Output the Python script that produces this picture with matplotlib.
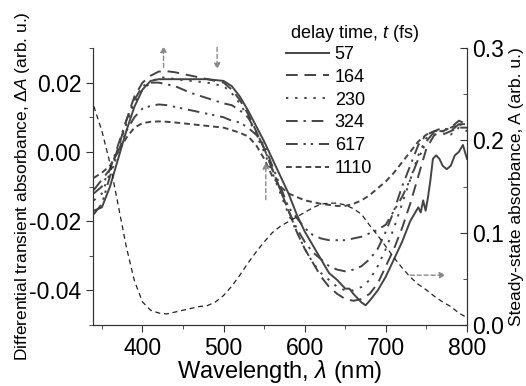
import numpy as np
import matplotlib
matplotlib.use("Agg")
import matplotlib.pyplot as plt

plt.rcParams["font.family"] = ["Liberation Sans", "DejaVu Sans"]
plt.rcParams["mathtext.fontset"] = "custom"
plt.rcParams["mathtext.rm"] = "Liberation Sans"
plt.rcParams["mathtext.it"] = "Liberation Sans:italic"
plt.rcParams["axes.unicode_minus"] = False

# 過渡吸収スペクトル (共通の波長グリッド)
wl = [340, 350, 360, 370, 380, 390, 400, 410, 420, 430, 440, 460, 480, 500,
      510, 520, 530, 540, 550, 560, 570, 580, 590, 600, 610, 620, 630, 640,
      650, 660, 670, 680, 690, 700, 710, 720, 730, 740, 750, 760, 770, 780,
      790, 800]

dA_164 = [-0.011, -0.008, -0.005, 0.001, 0.009, 0.016, 0.020, 0.022, 0.0232,
          0.0233, 0.023, 0.022, 0.021, 0.020, 0.018, 0.015, 0.011, 0.006,
          0.001, -0.005, -0.011, -0.017, -0.023, -0.028, -0.032, -0.036,
          -0.039, -0.041, -0.0425, -0.043, -0.0425, -0.041, -0.038, -0.033,
          -0.028, -0.022, -0.015, -0.007, 0.001, 0.005, 0.005, 0.006, 0.007,
          0.007]
dA_230 = [-0.014, -0.012, -0.006, 0.001, 0.008, 0.014, 0.018, 0.020, 0.0215,
          0.0215, 0.021, 0.0205, 0.020, 0.019, 0.017, 0.014, 0.010, 0.005,
          0.000, -0.006, -0.012, -0.018, -0.023, -0.028, -0.032, -0.035,
          -0.037, -0.039, -0.040, -0.040, -0.039, -0.037, -0.033, -0.028,
          -0.022, -0.015, -0.008, -0.001, 0.004, 0.005, 0.006, 0.005, 0.007,
          0.006]
dA_324 = [-0.012, -0.010, -0.005, 0.002, 0.009, 0.015, 0.019, 0.020, 0.020,
          0.0195, 0.019, 0.017, 0.0155, 0.014, 0.0135, 0.012, 0.010, 0.006,
          0.001, -0.005, -0.011, -0.017, -0.022, -0.026, -0.029, -0.031,
          -0.033, -0.034, -0.0345, -0.034, -0.033, -0.031, -0.028, -0.023,
          -0.017, -0.010, -0.004, 0.002, 0.005, 0.006, 0.007, 0.006, 0.008,
          0.007]
dA_617 = [-0.018, -0.015, -0.007, 0.000, 0.006, 0.010, 0.0125, 0.0133,
          0.0137, 0.0135, 0.013, 0.012, 0.011, 0.010, 0.009, 0.0085, 0.007,
          0.005, 0.002, -0.004, -0.010, -0.016, -0.019, -0.022, -0.024,
          -0.025, -0.0255, -0.0255, -0.0255, -0.025, -0.0245, -0.0235,
          -0.0225, -0.021, -0.017, -0.013, -0.008, -0.002, 0.003, 0.006,
          0.006, 0.007, 0.009, 0.008]
dA_1110 = [-0.0075, -0.006, -0.004, 0.000, 0.004, 0.007, 0.0083, 0.0087,
           0.0088, 0.0087, 0.0085, 0.008, 0.0075, 0.007, 0.0063, 0.0055,
           0.0045, 0.002, -0.002, -0.007, -0.010, -0.012, -0.013, -0.014,
           -0.0145, -0.015, -0.0153, -0.0156, -0.0156, -0.015, -0.014,
           -0.0125, -0.0105, -0.0085, -0.006, -0.003, 0.000, 0.003, 0.005,
           0.006, 0.006, 0.007, 0.008, 0.008]

# 57 fs はノイズが多いので別グリッド
wl_57 = [340, 350, 360, 370, 380, 390, 400, 410, 420, 440, 460, 480, 500,
         510, 520, 530, 540, 550, 560, 570, 580, 590, 600, 610, 620, 630,
         640, 650, 655, 660, 670, 675, 680, 690, 700, 710, 720, 730, 735,
         740, 743, 746, 749, 752, 755, 758, 762, 766, 770, 775, 780, 785,
         790, 795, 800]
dA_57 = [-0.017, -0.016, -0.010, -0.002, 0.006, 0.013, 0.018, 0.0205, 0.021,
         0.021, 0.021, 0.021, 0.0205, 0.019, 0.016, 0.012, 0.0075, 0.003,
         -0.002, -0.007, -0.012, -0.018, -0.023, -0.027, -0.031, -0.035,
         -0.037, -0.0395, -0.0395, -0.041, -0.0435, -0.0443, -0.043, -0.040,
         -0.036, -0.031, -0.026, -0.020, -0.018, -0.016, -0.0175, -0.014,
         -0.017, -0.013, -0.008, -0.002, -0.001, -0.002, -0.004, -0.005,
         -0.004, -0.001, 0.000, 0.002, -0.002]

# 定常吸収スペクトル (右軸)
wl_abs = [340, 350, 360, 370, 380, 390, 400, 410, 420, 430, 440, 450, 460,
          470, 480, 490, 500, 510, 520, 530, 540, 550, 560, 570, 580, 590,
          600, 610, 620, 630, 640, 650, 660, 670, 680, 690, 700, 710, 720,
          730, 740, 750, 760, 770, 780, 790, 800]
absorb = [0.237, 0.210, 0.175, 0.130, 0.085, 0.048, 0.025, 0.016, 0.013,
          0.012, 0.014, 0.016, 0.018, 0.020, 0.021, 0.025, 0.032, 0.042,
          0.054, 0.067, 0.079, 0.090, 0.100, 0.107, 0.112, 0.117, 0.122,
          0.127, 0.131, 0.132, 0.132, 0.130, 0.126, 0.120, 0.108, 0.097,
          0.085, 0.073, 0.062, 0.052, 0.044, 0.038, 0.031, 0.025, 0.020,
          0.013, 0.008]

labels = ["57", "164", "230", "324", "617", "1110"]
styles = ["-", (0, (6, 3.5)), (0, (1.2, 3.5)), (0, (6, 3, 1.2, 3)),
          (0, (6, 3, 1.2, 2.5, 1.2, 3)), (0, (3, 2))]

# 矢印 (tail, tip) : 波長, ΔA
arrows = [((426, 0.0244), (426, 0.0306)),
          ((492, 0.0302), (492, 0.0238)),
          ((552, -0.0138), (552, -0.0030)),
          ((730, -0.0356), (774, -0.0356))]

fig = plt.figure(figsize=(5.26, 3.86), dpi=100)
ax = fig.add_axes([0.1768, 0.158, 0.711, 0.7176])
ax2 = ax.twinx()

curves = [(wl_57, dA_57), (wl, dA_164), (wl, dA_230), (wl, dA_324),
          (wl, dA_617), (wl, dA_1110)]
for (x, y), lab, ls in zip(curves, labels, styles):
    ax.plot(x, y, ls=ls, color="#444444", lw=1.4, label=lab)

ax2.plot(wl_abs, absorb, ls=(0, (4, 3)), color="#222222", lw=0.9)

for tail, tip in arrows:
    ax.annotate("", xy=tip, xytext=tail, annotation_clip=False,
                arrowprops=dict(arrowstyle="-|>", ls=(0, (3, 2)),
                                color="#8a8a8a", lw=1.0, mutation_scale=9,
                                shrinkA=0, shrinkB=0))

ax.set_xlim(339, 800)
ax.set_ylim(-0.05, 0.03)
ax2.set_ylim(0, 0.3)

ax.set_xticks([400, 500, 600, 700, 800])
ax.set_xticks([350, 450, 550, 650, 750], minor=True)
ax.set_yticks([-0.04, -0.02, 0.00, 0.02])
ax.set_yticks([-0.05, -0.03, -0.01, 0.01, 0.03], minor=True)
ax.yaxis.set_major_formatter(matplotlib.ticker.FormatStrFormatter("%.2f"))
ax2.set_yticks([0.0, 0.1, 0.2, 0.3])
ax2.set_yticks([0.05, 0.15, 0.25], minor=True)
ax2.yaxis.set_major_formatter(matplotlib.ticker.FormatStrFormatter("%.1f"))

for a in (ax, ax2):
    a.spines["top"].set_visible(False)
    for s in a.spines.values():
        s.set_color("#333333")
ax.tick_params(which="both", direction="out", labelsize=16.5, color="#333333")
ax.tick_params(which="major", length=5)
ax.tick_params(which="minor", length=3)
ax2.tick_params(which="both", direction="in", labelsize=16.5, color="#333333",
                pad=4)
ax2.tick_params(which="major", length=5)
ax2.tick_params(which="minor", length=3)

ax.set_xlabel(r"Wavelength, $\lambda$ (nm)", fontsize=17, labelpad=-1)
ax.set_ylabel(r"Differential transient absorbance, $\Delta A$ (arb. u.)",
              fontsize=12.5, labelpad=-2)
ax2.set_ylabel("Steady-state absorbance, A (arb. u.)", fontsize=12.5,
               labelpad=3.5)

# 凡例 (タイトルは別テキストで配置)
fig.text(290 / 526, 1 - 33 / 386, r"delay time, $t$ (fs)", fontsize=13,
         ha="left", va="center")
leg = ax.legend(loc="upper left", bbox_to_anchor=(286 / 526, 1 - 46 / 386),
                bbox_transform=fig.transFigure, frameon=False, fontsize=13,
                handlelength=2.4, handletextpad=0.3, labelspacing=0.32,
                borderpad=0, borderaxespad=0)

fig.savefig("out.png", dpi=100)
